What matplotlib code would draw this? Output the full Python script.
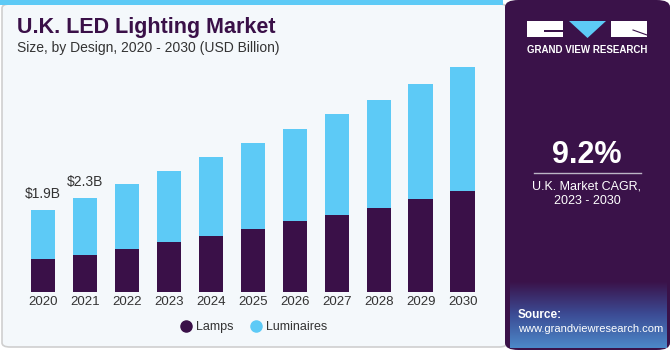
import numpy as np
import matplotlib.pyplot as plt
from matplotlib.patches import FancyBboxPatch, Rectangle, Polygon
from matplotlib.lines import Line2D
from matplotlib.colors import LinearSegmentedColormap

plt.rcParams['font.family'] = ['Liberation Sans', 'DejaVu Sans']

# data (USD billion)
years = ['2020', '2021', '2022', '2023', '2024', '2025', '2026', '2027', '2028', '2029', '2030']
lamps = [0.76, 0.86, 1.00, 1.16, 1.30, 1.46, 1.64, 1.78, 1.94, 2.15, 2.34]
luminaires = [1.14, 1.33, 1.50, 1.64, 1.83, 1.99, 2.14, 2.35, 2.52, 2.68, 2.88]
bar_labels = {0: '$1.9B', 1: '$2.3B'}

DARK = '#3A1048'
LIGHT = '#5DCAF6'
PANEL = '#3A1249'

W, H = 670, 350
fig = plt.figure(figsize=(W / 100, H / 100), dpi=100)


def fx(px):
    return px / W


def fy(py):
    return 1 - py / H


def add_patch(p, z=-10):
    p.set_zorder(z)
    fig.patches.append(p)


# background panels
add_patch(FancyBboxPatch((fx(2), fy(347)), fx(505), fy(4) - fy(347),
                         boxstyle='round,pad=0,rounding_size=0.012',
                         transform=fig.transFigure, facecolor='#F4F8FB',
                         edgecolor='#CFCFCF', lw=1.2))
add_patch(Rectangle((fx(0), fy(5)), fx(503), fy(0) - fy(5),
                    transform=fig.transFigure, facecolor=LIGHT, edgecolor='none'), -9)
add_patch(FancyBboxPatch((fx(505), 0), fx(165), 1,
                         boxstyle='round,pad=0,rounding_size=0.02',
                         transform=fig.transFigure, facecolor=PANEL,
                         edgecolor='none'), -9)

# source area gradient
gax = fig.add_axes([fx(510), fy(348), fx(157), fy(282) - fy(348)])
grad = np.linspace(0, 1, 100).reshape(-1, 1)
cmap = LinearSegmentedColormap.from_list('src', [PANEL, '#3C4C95', '#4C88C8'])
gax.imshow(grad, aspect='auto', cmap=cmap, extent=[0, 1, 0, 1], origin='upper')
gax.axis('off')

# chart
ax = fig.add_axes([fx(10), fy(291.7), fx(485), fy(60) - fy(291.7)])
x = np.arange(len(years))
ax.bar(x, lamps, width=0.58, color=DARK, zorder=2)
ax.bar(x, luminaires, width=0.58, bottom=lamps, color=LIGHT, zorder=2)
totals = np.array(lamps) + np.array(luminaires)
for i, lab in bar_labels.items():
    ax.text(x[i], totals[i] + 0.2, lab, ha='center', va='bottom', fontsize=10, color='#333333')
ax.set_xlim(-0.78, 10.77)
ax.set_ylim(0, 5.39)
ax.set_xticks(x)
ax.set_xticklabels(years, fontsize=9.5, color='#333333')
ax.tick_params(axis='x', length=0, pad=3)
ax.set_yticks([])
for s in ax.spines.values():
    s.set_visible(False)
ax.patch.set_alpha(0)

# legend
handles = [Line2D([], [], marker='o', ls='none', color=DARK, markersize=8, label='Lamps'),
           Line2D([], [], marker='o', ls='none', color=LIGHT, markersize=8, label='Luminaires')]
fig.legend(handles=handles, loc='center', bbox_to_anchor=(fx(253), fy(327)), ncol=2,
           frameon=False, fontsize=9, handletextpad=0.2, columnspacing=1.2,
           handlelength=1.2, labelcolor='#333333')

# titles
fig.text(fx(17), fy(28), 'U.K. LED Lighting Market', fontsize=15.5, fontweight='bold',
         color=DARK, va='center', ha='left')
fig.text(fx(17), fy(48), 'Size, by Design, 2020 - 2030 (USD Billion)', fontsize=10,
         color='#333333', va='center', ha='left')

# logo
add_patch(Polygon([(fx(527), fy(21)), (fx(563), fy(21)), (fx(563), fy(30)),
                   (fx(544), fy(30)), (fx(544), fy(32)), (fx(563), fy(32)),
                   (fx(563), fy(37)), (fx(527), fy(37))],
                  transform=fig.transFigure, facecolor='white', edgecolor='none'), -5)
add_patch(Polygon([(fx(569), fy(21)), (fx(606), fy(21)), (fx(587.5), fy(38))],
                  transform=fig.transFigure, facecolor=LIGHT, edgecolor='none'), -5)
add_patch(Polygon([(fx(611), fy(21)), (fx(647), fy(21)), (fx(647), fy(37)),
                   (fx(611), fy(37))],
                  transform=fig.transFigure, facecolor='white', edgecolor='none'), -5)
fig.add_artist(Line2D([fx(633), fx(647)], [fy(30), fy(35)], transform=fig.transFigure,
                      color=PANEL, lw=0.8))
fig.text(fx(587), fy(50), 'GRAND VIEW RESEARCH', fontsize=7, fontweight='bold',
         color='white', ha='center', va='center')

# CAGR
fig.text(fx(587), fy(155), '9.2%', fontsize=22, fontweight='bold', color='white',
         ha='center', va='center')
fig.add_artist(Line2D([fx(534), fx(641)], [fy(173), fy(173)], transform=fig.transFigure,
                      color='#BBB5C5', lw=1))
fig.text(fx(587), fy(186), 'U.K. Market CAGR,', fontsize=9, color='white',
         ha='center', va='center')
fig.text(fx(587), fy(201), '2023 - 2030', fontsize=9, color='white',
         ha='center', va='center')

# source
fig.text(fx(518), fy(315), 'Source:', fontsize=8.5, fontweight='bold', color='white',
         ha='left', va='center')
fig.text(fx(518), fy(329), 'www.grandviewresearch.com', fontsize=8, color='white',
         ha='left', va='center')

fig.savefig('out.png', dpi=100)
